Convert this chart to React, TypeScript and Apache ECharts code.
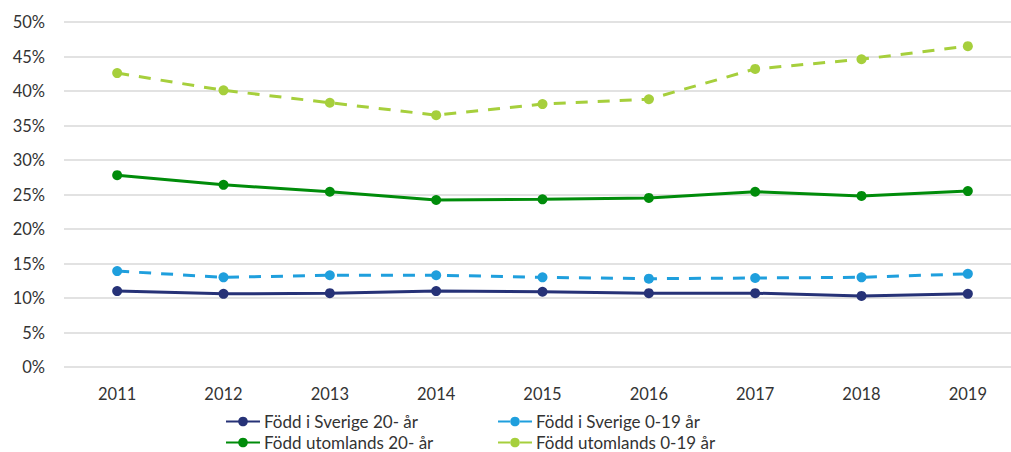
import React, { useEffect, useRef } from "react";
import * as echarts from "echarts";

const years = ["2011", "2012", "2013", "2014", "2015", "2016", "2017", "2018", "2019"];
const sverige20 = [11.0, 10.6, 10.7, 11.0, 10.9, 10.7, 10.7, 10.3, 10.6];
const sverige019 = [13.9, 13.0, 13.3, 13.3, 13.0, 12.8, 12.9, 13.0, 13.5];
const utomlands20 = [27.8, 26.4, 25.4, 24.2, 24.3, 24.5, 25.4, 24.8, 25.5];
const utomlands019 = [42.6, 40.1, 38.3, 36.5, 38.1, 38.8, 43.2, 44.6, 46.5];

const names = [
  "Född i Sverige 20- år",
  "Född i Sverige 0-19 år",
  "Född utomlands 20- år",
  "Född utomlands 0-19 år",
];
const colors = ["#263277", "#1f9fdd", "#008c0a", "#a6cf3c"];

const FONT = "Lato, sans-serif";
const TXT = "#333333";

export default function App() {
  const ref = useRef<HTMLDivElement>(null);
  useEffect(() => {
    document.body.style.margin = "0";
    document.body.style.overflow = "hidden";
    const chart = echarts.init(ref.current!, null, { renderer: "svg" });
    const mk = (i: number, data: number[], dashed: boolean) => ({
      name: names[i],
      type: "line",
      data,
      symbol: "circle",
      symbolSize: 10,
      itemStyle: { color: colors[i] },
      lineStyle: { color: colors[i], width: 3, type: dashed ? [12, 10] : "solid" },
    });
    const leg = (i: number, left: number, top: number) => ({
      data: [names[i]],
      left,
      top,
      padding: 0,
      itemWidth: 34,
      itemHeight: 12,
      itemGap: 4,
      textStyle: { color: TXT, fontSize: 17, fontFamily: FONT, padding: [0, 0, 0, -1] },
    });
    chart.setOption({
      animation: false,
      textStyle: { fontFamily: FONT },
      grid: { left: 64, top: 22, right: 0, height: 345, containLabel: false },
      legend: [leg(0, 225, 413), leg(2, 225, 434), leg(1, 497, 413), leg(3, 497, 434)],
      xAxis: {
        type: "category",
        data: years,
        boundaryGap: true,
        axisLine: { show: false },
        axisTick: { show: false },
        axisLabel: { color: TXT, fontSize: 16.5, margin: 18, fontFamily: FONT },
      },
      yAxis: {
        type: "value",
        min: 0,
        max: 50,
        interval: 5,
        axisLine: { show: false },
        axisTick: { show: false },
        axisLabel: { color: TXT, fontSize: 16.5, margin: 19, formatter: "{value}%", fontFamily: FONT },
        splitLine: { lineStyle: { color: "#d9d9d9", width: 1.5 } },
      },
      series: [
        mk(0, sverige20, false),
        mk(1, sverige019, true),
        mk(2, utomlands20, false),
        mk(3, utomlands019, true),
      ],
    });
    return () => chart.dispose();
  }, []);
  return <div ref={ref} style={{ position: "absolute", left: 0, top: 0, width: 1021, height: 452 }} />;
}
